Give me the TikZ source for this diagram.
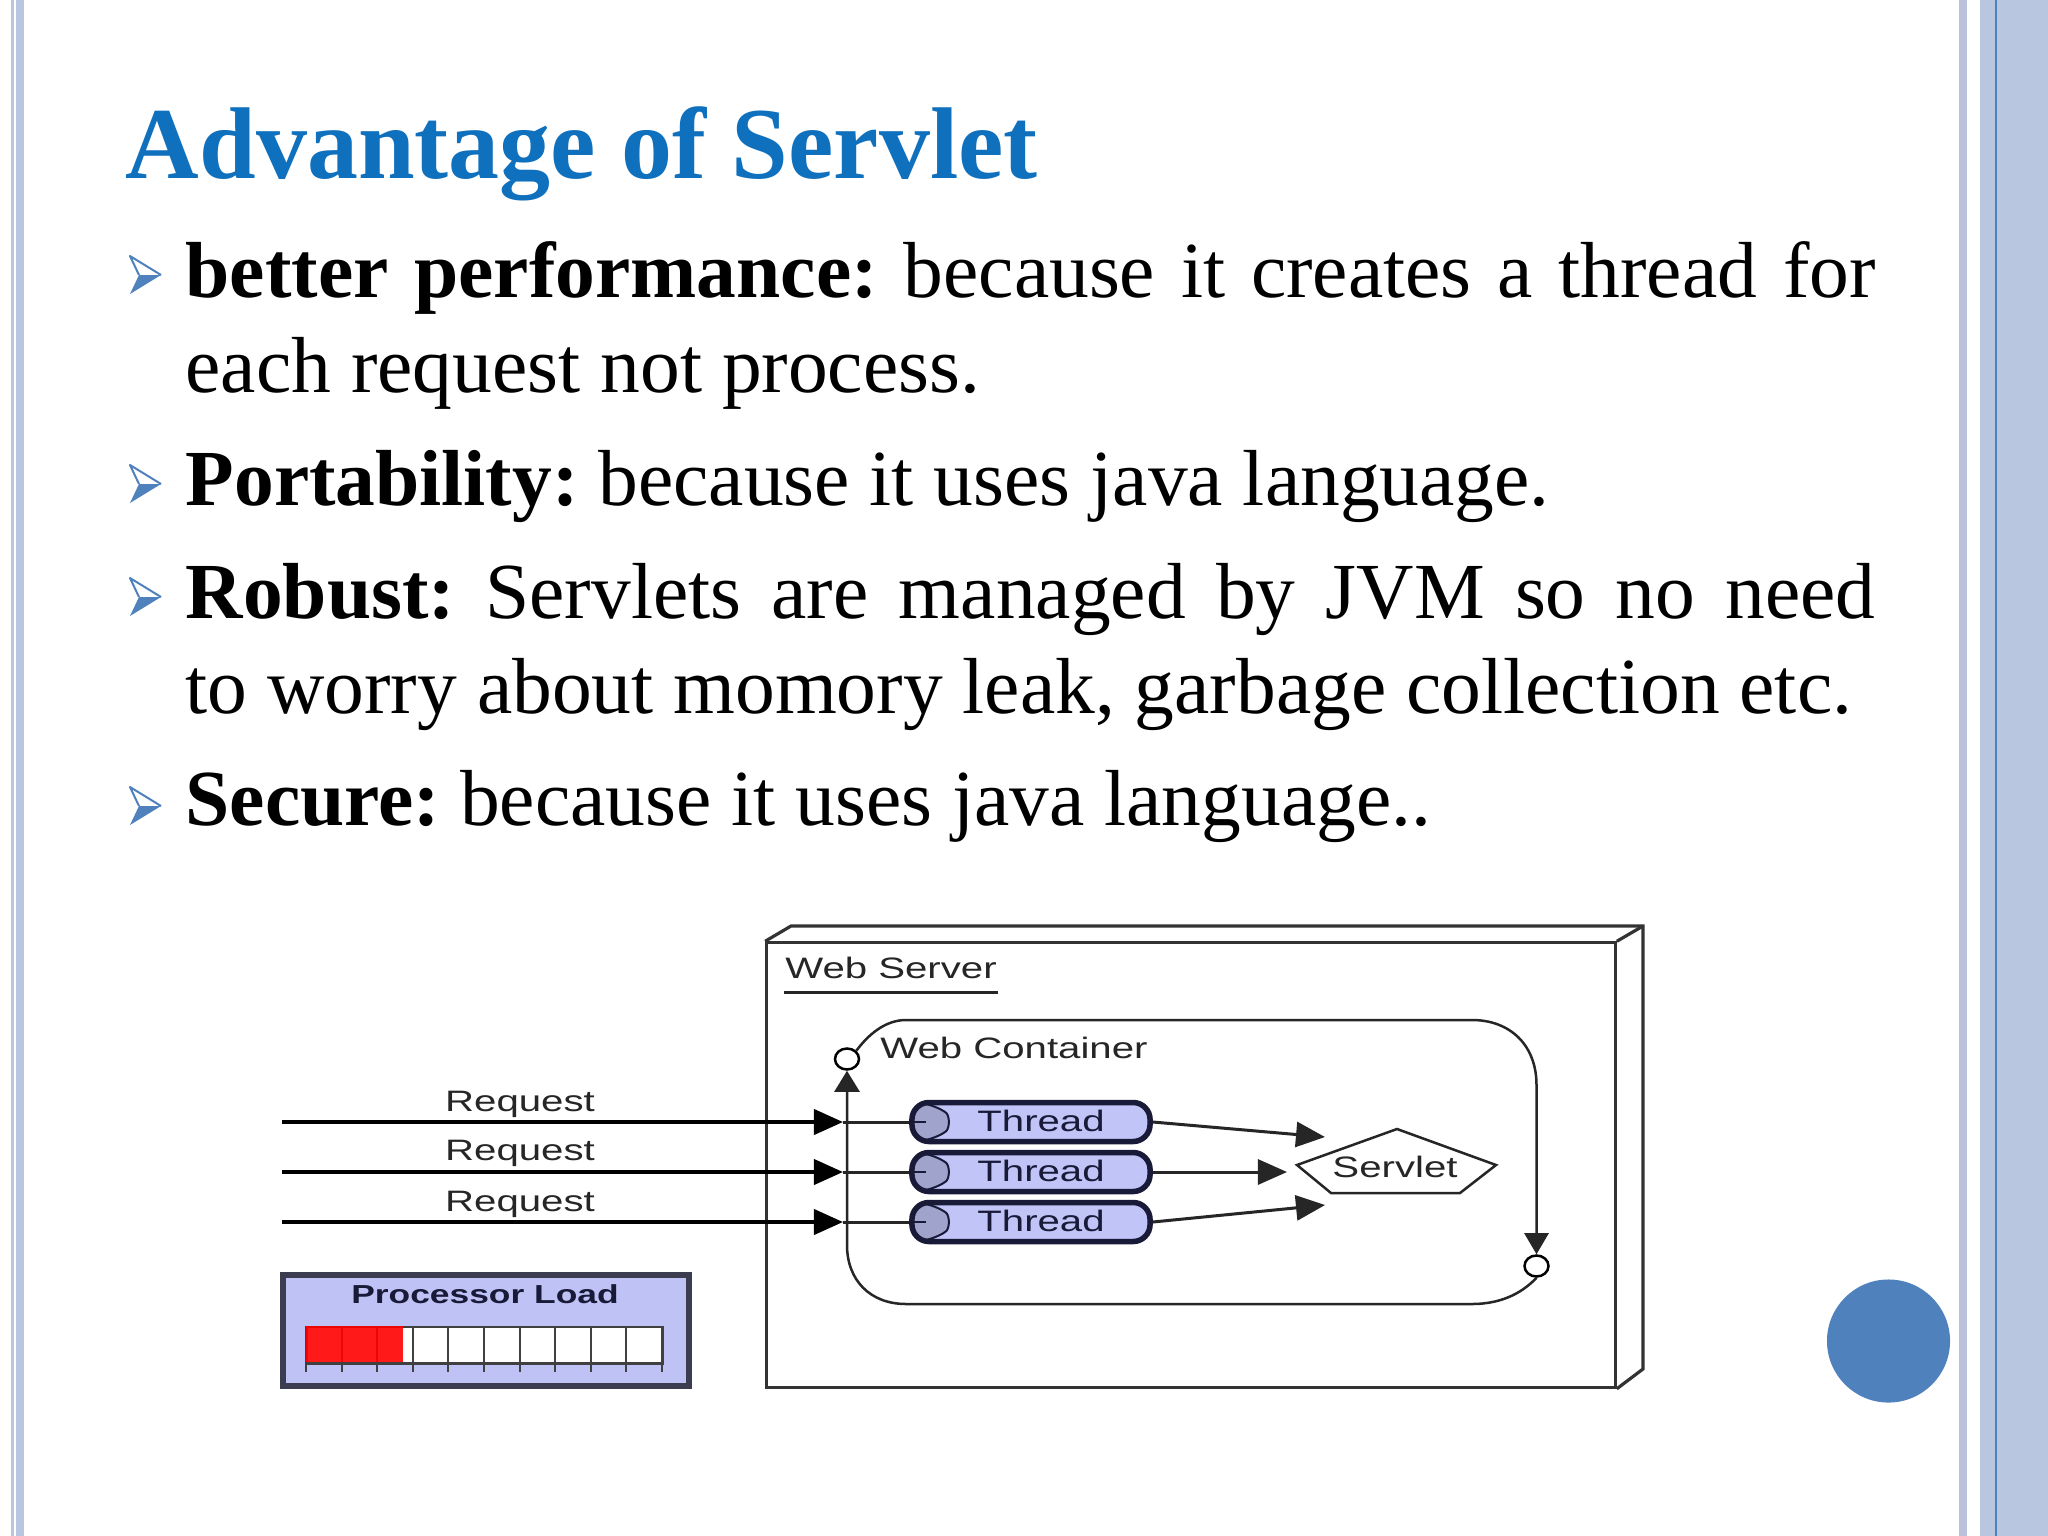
\documentclass[tikz,border=0pt]{standalone}
\usepackage{fontspec}
\setmainfont{Liberation Serif}
\setsansfont{Liberation Sans}
\usetikzlibrary{arrows.meta,calc,shapes.geometric}
\frenchspacing

\definecolor{framefill}{HTML}{B8C6DF}
\definecolor{framemid}{HTML}{BCC2DC}
\definecolor{slideblue}{HTML}{4F81BD}
\definecolor{titleblue}{HTML}{0F70BE}
\definecolor{threadfill}{HTML}{C0C4F6}
\definecolor{threadcap}{HTML}{A0A4CC}
\definecolor{threadline}{HTML}{181A38}
\definecolor{loadfill}{HTML}{BFC2F4}
\definecolor{loadline}{HTML}{3C3C50}

\tikzset{
  slideline/.style={anchor=base west, inner sep=0pt, font=\fontsize{22.6}{27}\selectfont},
  diagtext/.style={inner sep=0pt, font=\sffamily\fontsize{8.4}{10}\selectfont, xscale=1.36, transform shape, text=black!85},
  port/.style={ellipse, draw, fill=white, line width=.025cm, inner sep=0pt, minimum width=.24cm, minimum height=.21cm},
  boxline/.style={draw=black!80, line width=.032cm},
  wire/.style={draw=black!85, line width=.025cm},
  reqline/.style={draw=black, line width=.04cm, -{Triangle[length=.29cm,width=.25cm]}},
  threadbox/.style={draw=threadline, fill=threadfill, line width=.055cm, rounded corners=.17cm, inner sep=0pt,
    minimum width=2.38cm, minimum height=.39cm,
    path picture={
      \path[fill=threadcap, draw=threadline, line width=.02cm] (path picture bounding box.north west) -- ($(path picture bounding box.north west)+(20,0)$)
        .. controls +(18,13) and +(18,-13) .. ($(path picture bounding box.south west)+(20,0)$) -- (path picture bounding box.south west) -- cycle;
      \draw[threadline, line width=.02cm] (path picture bounding box.west) -- +(14,0);
    }}
}

\newcommand{\slidebullet}[1]{
   \fill[slideblue] (130,#1+19) -- (139,#1) -- (161,#1) -- cycle;
   \draw[slideblue, line width=.02cm, line join=round] (139,#1) -- (130,#1-19) -- (161,#1);
}

\begin{document}
\begin{tikzpicture}[x=.01cm, y=-.01cm]
   \useasboundingbox (0,0) rectangle (2048,1536);
   \fill[white] (0,0) rectangle (2048,1536);
   % frame
   \fill[framefill] (11,0) rectangle (13.5,1536);
   \fill[framefill] (16,0) rectangle (24,1536);
   \fill[framemid] (1959,0) rectangle (1967,1536);
   \fill[framefill] (1980,0) rectangle (2048,1536);
   \fill[slideblue] (1995,0) rectangle (1997,1536);
   \node (dot) [circle, fill=slideblue, minimum size=1.23cm, inner sep=0pt] at (1888.5,1341) {};

   % text
   \node (title) [anchor=base west, inner sep=0pt, text=titleblue, font=\bfseries\fontsize{29}{34}\selectfont] at (125,178) {Advantage of Servlet};
   \foreach \y in {275,484,597,806} { \slidebullet{\y} }
   \node (line1) [slideline] at (185,297) {\makebox[16.89cm][s]{\textbf{better performance:} because it creates a thread for}};
   \node (line2) [slideline] at (185,392) {each request not process.};
   \node (line3) [slideline] at (185,505) {\textbf{Portability:} because it uses java language.};
   \node (line4) [slideline] at (185,618) {\makebox[16.89cm][s]{\textbf{Robust:} Servlets are managed by JVM so no need}};
   \node (line5) [slideline] at (185,713) {to worry about momory leak, garbage collection etc.};
   \node (line6) [slideline] at (185,825) {\textbf{Secure:} because it uses java language..};

   % web server
   \node (server) [boxline, rectangle, minimum width=8.48cm, minimum height=4.44cm, inner sep=0pt] at (1191,1165) {};
   \draw[boxline] (server.north west) -- (791,926) -- (1643,926) -- (1643,1369) -- (server.south east);
   \draw[boxline] (server.north east) -- (1643,926);
   \node (servername) [diagtext] at (891,968) {Web Server};
   \draw[wire] ($(servername.south west)+(0,13)$) -- ($(servername.south east)+(0,13)$);
   \node (containername) [diagtext] at (1014,1048) {Web Container};

   % container outline
   \node (inport) [port] at (847,1059) {};
   \node (outport) [port] at (1536.5,1266) {};
   \draw[wire, -{Triangle[length=.21cm,width=.24cm]}] (inport.north east) .. controls (868,1035) and (885,1020) .. (906,1020) -- (1472,1020)
      .. controls (1510,1020) and (1536.5,1045) .. (1536.5,1085) -- (outport.north);
   \draw[wire, -{Triangle[length=.21cm,width=.25cm]}] (outport.south) .. controls (1525,1290) and (1505,1304) .. (1472,1304) -- (906,1304)
      .. controls (870,1304) and (847,1280) .. (847,1245) -- (inport.south);

   % servlet
   \node (servlet) [diagtext] at (1395,1167) {Servlet};
   \coordinate (pentop) at (1397,1129);
   \coordinate (penright) at (1496,1165);
   \coordinate (penleft) at (1297,1165);
   \draw[wire] (pentop) -- (penright) -- (1460,1193) -- (1331,1193) -- (penleft) -- cycle;

   % threads
   \foreach \i/\y/\tx/\ty in {1/1122/1325/1137, 2/1172/1287/1172, 3/1222/1325/1205} {
      \node (thread\i) [threadbox] at (1031,\y) {};
      \node (threadname\i) [diagtext, text=threadline] at (1041,\y-1) {Thread};
      \coordinate (source\i) at (282,\y);
      \coordinate (entry\i) at (843,\y);
      \coordinate (target\i) at (\tx,\ty);
      \draw[reqline] (source\i) -- (entry\i);
      \draw[wire, line width=.03cm] (entry\i) -- (thread\i.west);
      \draw[wire, line width=.03cm, -{Triangle[length=.29cm,width=.25cm]}] (thread\i.east) -- (target\i);
   }
   \node (request1) [diagtext] at (520,1104) {Request};
   \node (request2) [diagtext] at (520,1153) {Request};
   \node (request3) [diagtext] at (520,1204) {Request};

   % processor load
   \node (load) [draw=loadline, fill=loadfill, line width=.06cm, minimum width=4.06cm, minimum height=1.1cm, inner sep=0pt] at (486,1330.5) {};
   \node (loadname) [diagtext, font=\sffamily\bfseries\fontsize{7.4}{9}\selectfont, text=threadline] at (485,1294) {Processor Load};
   \node (bar) [draw=black!75, fill=white, line width=.02cm, minimum width=3.56cm, minimum height=.36cm, inner sep=0pt, anchor=north west] at (306,1326) {};
   \foreach \i in {0,...,10} {
      \draw[black!75, line width=.02cm] (306+35.6*\i,1326) -- (306+35.6*\i,1372);
   }
   \fill[red, opacity=.9] (bar.north west) rectangle (403,1362);
   \draw[black!75, line width=.02cm] (bar.south west) -- (bar.south east);
\end{tikzpicture}
\end{document}
